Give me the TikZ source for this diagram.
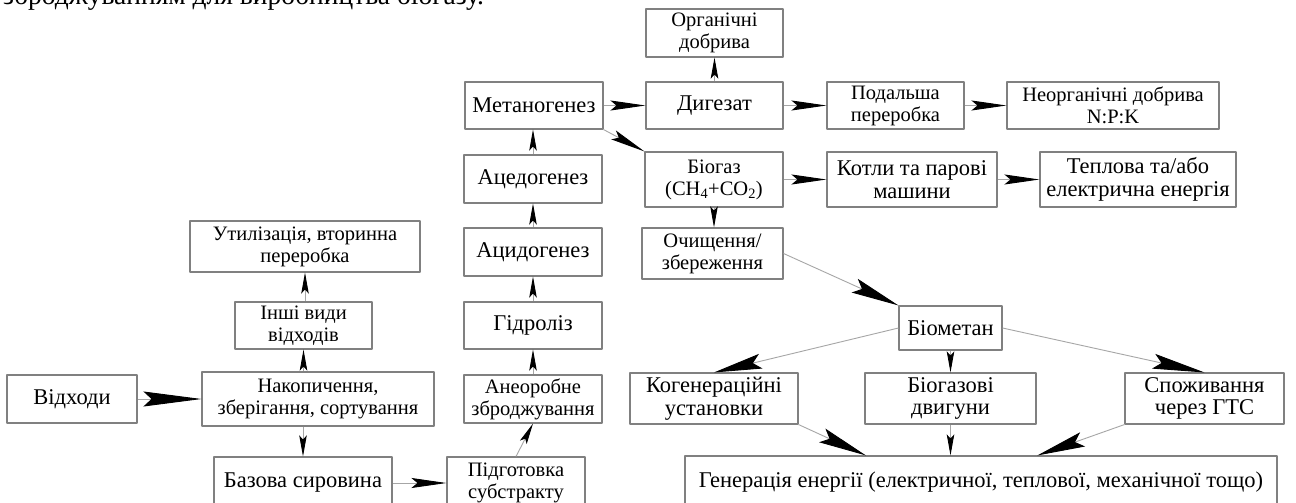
\documentclass[tikz,border=0pt]{standalone}
\usepackage{fontspec}
\setmainfont{Liberation Serif}
\usetikzlibrary{arrows.meta,calc}

\begin{document}
\begin{tikzpicture}[x=1pt,y=-1pt,line join=round,
  box/.style={draw=black!50,line width=1.1pt,align=center,inner sep=0pt,font=\fontsize{22.5}{22.5}\selectfont},
  sbox/.style={box,font=\fontsize{20.5}{22}\selectfont},
  arr/.style={draw=black!35,line width=0.9pt,-{Stealth[length=21pt,width=7.5pt,inset=4pt,color=black]}},
  midarr/.style={draw=black!35,line width=0.9pt,-{Stealth[length=35pt,width=10pt,inset=6pt,color=black]}},
  bigarr/.style={draw=black!35,line width=0.9pt,-{Stealth[length=#1,width=15pt,inset=8pt,color=black]}},
  bigarr/.default=48pt]
  \useasboundingbox[fill=white] (0,0) rectangle (1296,503);
  \clip (0,0) rectangle (1296,503);
  \node[anchor=base west,inner sep=0pt,font=\fontsize{27.5}{28}\selectfont] (head) at (3,5) {зброджуванням для виробництва біогазу.};
  \node[box,minimum width=130pt,minimum height=48pt] (vidkh) at (72,399) {Відходи};
  \node[sbox,minimum width=232pt,minimum height=54pt] (nakop) at (318,399) {Накопичення,\\зберігання, сортування};
  \node[sbox,minimum width=137pt,minimum height=47pt] (inshi) at (303.5,325.5) {Інші види\\відходів};
  \node[sbox,minimum width=230pt,minimum height=51pt] (utyl) at (305,246.5) {Утилізація, вторинна\\переробка};
  \node[box,minimum width=178pt,minimum height=52pt] (bazova) at (303,483) {Базова сировина};
  \node[sbox,minimum width=138pt,minimum height=52pt] (pidh) at (516,483) {Підготовка\\субстракту};
  \node[sbox,minimum width=138pt,minimum height=48pt] (aneo) at (533,399) {Анеоробне\\зброджування};
  \node[box,minimum width=138pt,minimum height=47pt] (hidr) at (533,325.5) {Гідроліз};
  \node[box,minimum width=138pt,minimum height=48pt] (acid) at (533,252) {Ацидогенез};
  \node[box,minimum width=138pt,minimum height=48pt] (aced) at (533,179) {Ацедогенез};
  \node[box,minimum width=138pt,minimum height=47pt] (metan) at (534,105.5) {Метаногенез};
  \node[sbox,minimum width=137pt,minimum height=48pt] (orh) at (714.5,33) {Органічні\\добрива};
  \node[box,minimum width=137pt,minimum height=47pt] (dyh) at (714.5,105.5) {Дигезат};
  \node[sbox,minimum width=137pt,minimum height=47pt] (podal) at (895.5,105.5) {Подальша\\переробка};
  \node[sbox,minimum width=212pt,minimum height=47pt] (neorh) at (1113,105.5) {Неорганічні добрива\\N:P:K};
  \node[sbox,minimum width=138pt,minimum height=55pt] (biogaz) at (714,179.5) {Біогаз\\(CH\textsubscript{4}+CO\textsubscript{2})};
  \node[box,minimum width=170pt,minimum height=55pt] (kotly) at (912,179.5) {Котли та парові\\машини};
  \node[box,minimum width=196pt,minimum height=55pt] (tepl) at (1138,179.5) {Теплова та/або\\електрична енергія};
  \node[sbox,minimum width=141pt,minimum height=51pt] (ochysh) at (712.5,253.5) {Очищення/\\збереження};
  \node[box,minimum width=103pt,minimum height=44pt] (biomet) at (950.5,328) {Біометан};
  \node[box,minimum width=168pt,minimum height=51pt] (kogen) at (714,398.5) {Когенераційні\\установки};
  \node[box,minimum width=171pt,minimum height=51pt] (biogdv) at (950.5,398.5) {Біогазові\\двигуни};
  \node[box,minimum width=159pt,minimum height=51pt] (spozh) at (1204.5,398.5) {Споживання\\через ГТС};
  \node[box,minimum width=592pt,minimum height=52pt] (gener) at (981,482) {Генерація енергії (електричної, теплової, механічної тощо)};
  \coordinate (genL) at ($(gener.north west)!0.306!(gener.north east)$);
  \coordinate (genR) at ($(gener.north west)!0.595!(gener.north east)$);
  \draw[bigarr=58pt] (vidkh) -- (nakop);
  \draw[arr] (inshi.south |- nakop.north) -- (inshi.south);
  \draw[arr] (utyl.south |- inshi.north) -- (utyl.south);
  \draw[arr] (bazova.north |- nakop.south) -- (bazova.north);
  \draw[midarr] (bazova) -- (pidh);
  \draw[arr] (pidh.north) -- (aneo.south);
  \draw[arr] (aneo) -- (hidr);
  \draw[arr] (hidr) -- (acid);
  \draw[arr] (acid) -- (aced);
  \draw[arr] (aced) -- (aced |- metan.south);
  \draw[midarr] (metan) -- (dyh);
  \draw[midarr] (metan.south east) -- (biogaz.north west);
  \draw[arr] (dyh) -- (orh);
  \draw[midarr] (dyh) -- (podal);
  \draw[midarr] (podal) -- (neorh);
  \draw[midarr] (biogaz) -- (kotly);
  \draw[midarr] (kotly) -- (tepl);
  \draw[arr] (biogaz.south) -- (biogaz.south |- ochysh.north);
  \draw[bigarr] (ochysh.east) -- (biomet.north west);
  \draw[bigarr] (biomet.west) -- (kogen.north);
  \draw[arr] (biomet) -- (biogdv);
  \draw[bigarr=52pt] (biomet.east) -- (spozh.north);
  \draw[bigarr] (kogen.south east) -- (genL);
  \draw[arr] (biogdv.south) -- (biogdv.south |- gener.north);
  \draw[bigarr] (spozh.south west) -- (genR);
\end{tikzpicture}
\end{document}
